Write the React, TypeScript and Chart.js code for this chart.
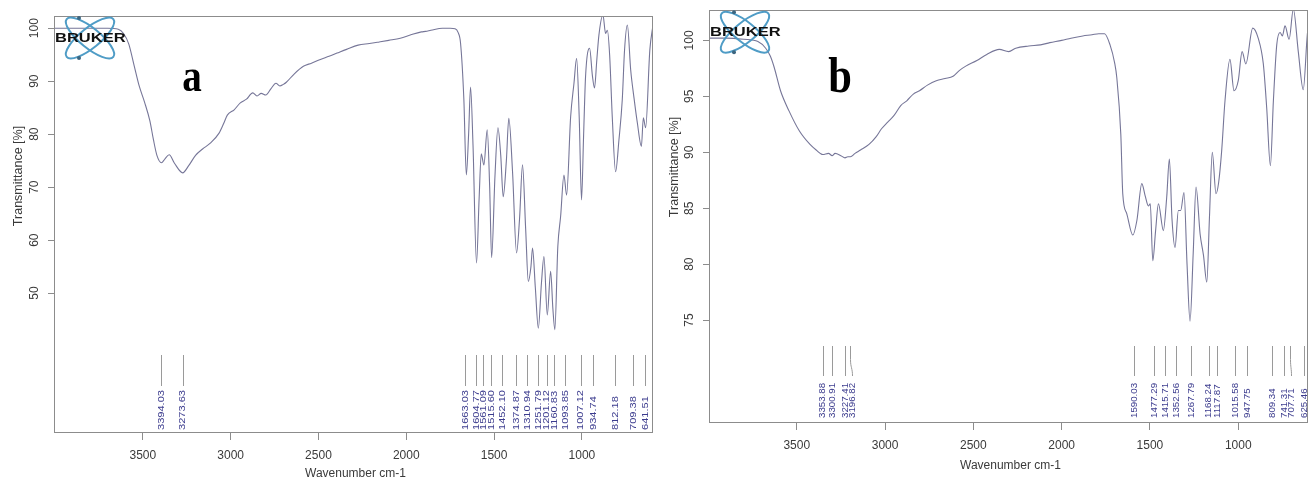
import React, { useEffect, useRef } from 'react';
import { Chart, registerables } from 'chart.js';

Chart.register(...registerables);

// ---------------- DATA ----------------
const waveA = [
  4006, 3900, 3800, 3700, 3640, 3610, 3580, 3550, 3520, 3490, 3460, 3440, 3420, 3394, 3375, 3350, 3320, 3273,
  3240, 3200, 3160, 3116, 3066, 3040, 3019, 2980, 2945, 2910, 2874, 2850, 2826, 2800, 2770, 2742, 2720, 2700,
  2683, 2640, 2586, 2540, 2489, 2440, 2394, 2340, 2274, 2210, 2154, 2100, 2034, 1970, 1914, 1890, 1860, 1794,
  1750, 1722, 1705, 1691, 1672, 1658, 1645, 1634, 1620, 1600, 1585, 1573, 1558, 1539, 1525, 1514, 1495, 1478,
  1462, 1448, 1430, 1416, 1395, 1372, 1355, 1338, 1320, 1305, 1290, 1281, 1265, 1248, 1230, 1216, 1197, 1178,
  1165, 1154, 1137, 1121, 1102, 1087, 1064, 1045, 1030, 1015, 1002, 990, 979, 956, 940, 928, 915, 903, 880,
  865, 855, 842, 827, 808, 789, 770, 757, 741, 722, 703, 684, 661, 650, 637, 613, 595,
];
const transA = [
  100.0, 100.0, 100.0, 100.0, 99.8, 99.0, 97.0, 93.0, 89.0, 86.0, 82.5, 79.0, 76.0, 74.6, 75.3, 76.1, 74.5, 72.7,
  74.0, 76.0, 77.2, 78.3, 80.2, 82.0, 83.6, 84.6, 85.9, 86.6, 87.8, 87.2, 87.7, 87.4, 88.6, 89.6, 89.1, 89.4,
  89.8, 91.3, 92.8, 93.4, 94.1, 94.7, 95.3, 96.0, 96.8, 97.1, 97.4, 97.7, 98.1, 98.8, 99.3, 99.4, 99.6, 100.0,
  100.0, 99.9, 99.2, 97.2, 86.5, 72.3, 80.0, 88.9, 78.0, 55.7, 68.0, 76.3, 74.2, 80.8, 70.0, 56.7, 72.0, 81.2,
  76.0, 68.2, 75.0, 83.0, 73.0, 57.6, 64.0, 74.2, 62.0, 52.2, 55.0, 58.5, 51.0, 43.4, 52.0, 56.9, 45.9, 54.1,
  47.0, 43.1, 58.8, 64.5, 72.3, 68.5, 83.3, 89.6, 94.3, 83.0, 67.6, 80.0, 90.9, 96.2, 91.0, 88.7, 94.0, 98.7, 102.5,
  99.0, 99.6, 95.0, 83.3, 72.9, 78.9, 86.5, 95.9, 100.6, 92.1, 86.8, 82.1, 77.7, 83.1, 81.2, 95.9, 100.6,
];
const peaksA = [
  3394.03, 3273.63, 1663.03, 1604.77, 1561.09, 1515.6, 1452.1, 1374.87, 1310.94, 1251.79, 1201.12, 1160.83,
  1093.85, 1007.12, 934.74, 812.18, 709.38, 641.51,
];

const waveB = [
  3997, 3900, 3800, 3720, 3676, 3650, 3628, 3592, 3544, 3485, 3425, 3390, 3353, 3320, 3300, 3283, 3250, 3227,
  3211, 3196, 3170, 3139, 3091, 3050, 3020, 2985, 2949, 2910, 2877, 2840, 2805, 2760, 2710, 2660, 2615, 2580,
  2543, 2480, 2424, 2353, 2300, 2260, 2186, 2120, 2067, 2000, 1947, 1880, 1828, 1790, 1757, 1726, 1700, 1688,
  1665, 1654, 1631, 1597, 1574, 1546, 1527, 1509, 1498, 1484, 1468, 1452, 1424, 1405, 1390, 1375, 1358, 1339,
  1326, 1307, 1290, 1273, 1255, 1239, 1216, 1197, 1178, 1163, 1147, 1126, 1111, 1094, 1075, 1047, 1024, 1000,
  978, 957, 918, 887, 858, 839, 818, 801, 782, 763, 750, 735, 712, 688, 660, 632, 609, 605,
];
const transB = [
  100.2, 100.2, 100.1, 99.9, 99.3, 98.6, 97.6, 95.5, 93.7, 91.9, 90.7, 90.2, 89.8, 89.9, 89.7, 89.9, 89.7, 89.5,
  89.6, 89.6, 89.9, 90.2, 90.7, 91.4, 92.1, 92.7, 93.3, 94.2, 94.6, 95.2, 95.5, 96.0, 96.4, 96.6, 96.8, 97.3,
  97.7, 98.2, 98.75, 99.2, 99.0, 99.3, 99.5, 99.6, 99.8, 100.0, 100.2, 100.4, 100.5, 100.6, 100.6, 99.6, 98.0, 96.7,
  91.6, 86.3, 84.5, 82.6, 83.9, 87.2, 86.1, 85.2, 85.4, 80.3, 83.0, 85.4, 83.0, 86.0, 89.4, 84.0, 81.5, 84.8,
  84.8, 86.4, 80.0, 74.9, 81.0, 86.9, 82.7, 80.8, 78.4, 84.2, 90.0, 86.3, 87.3, 90.1, 94.6, 98.3, 95.5, 96.4,
  99.0, 97.9, 101.1, 100.2, 97.9, 94.0, 88.8, 94.6, 99.6, 100.7, 100.4, 101.3, 100.1, 102.8, 99.0, 95.6, 100.5, 101.0,
];
const peaksB = [
  3353.88, 3300.91, 3227.41, 3196.82, 1590.03, 1477.29, 1415.71, 1352.56, 1267.79, 1168.24, 1117.87, 1015.58,
  947.75, 809.34, 741.31, 707.71, 625.46,
];

const xTicks = [3500, 3000, 2500, 2000, 1500, 1000];
const yTicksA = [50, 60, 70, 80, 90, 100];
const yTicksB = [75, 80, 85, 90, 95, 100];

// ---------------- STYLE ----------------
const FONT = '"Liberation Sans", Arial, sans-serif';
const CURVE = '#767698';
const AXIS = '#8c8c8c';
const TICK = '#3a3a3a';
const PEAK_LINE = '#9a9a9a';
const PEAK_TEXT = '#3c3c8e';

type Panel = {
  wave: number[];
  trans: number[];
  peaks: number[];
  yTicks: number[];
  xMin: number;
  xMax: number;
  yMin: number;
  yMax: number;
  top: number;
  xAxisH: number;
  lineTopOff: number;
  lineBotOff: number;
  labelStartOff: number;
  labelStretch: number;
  xTitleY: number;
  yTitleX: number;
  yTitleY: number;
  letter: string;
  letterX: number;
  letterY: number;
  letterSize: number;
  left: number;
};

const panelA: Panel = {
  wave: waveA, trans: transA, peaks: peaksA, yTicks: yTicksA,
  xMin: 595, xMax: 4006, yMin: 23.6, yMax: 102.3,
  top: 16, xAxisH: 51,
  lineTopOff: 78, lineBotOff: 47, labelStartOff: 3, labelStretch: 1.3,
  xTitleY: 474, yTitleX: 19, yTitleY: 176,
  letter: 'a', letterX: 192, letterY: 91, letterSize: 46, left: 0,
};
const panelB: Panel = {
  wave: waveB, trans: transB, peaks: peaksB, yTicks: yTicksB,
  xMin: 605, xMax: 3997, yMin: 65.8, yMax: 102.7,
  top: 9, xAxisH: 61,
  lineTopOff: 77, lineBotOff: 47, labelStartOff: 5, labelStretch: 1.14,
  xTitleY: 466, yTitleX: 20, yTitleY: 167,
  letter: 'b', letterX: 185, letterY: 92, letterSize: 50, left: 655,
};

function drawLogo(ctx: CanvasRenderingContext2D, left: number, top: number) {
  const cx = left + 36;
  const cy = top + 22;
  ctx.save();
  ctx.strokeStyle = '#4f9cc6';
  ctx.lineWidth = 2;
  ctx.beginPath();
  ctx.ellipse(cx, cy, 30, 10, (39 * Math.PI) / 180, 0, Math.PI * 2);
  ctx.stroke();
  ctx.beginPath();
  ctx.ellipse(cx, cy, 30, 10, (-39 * Math.PI) / 180, 0, Math.PI * 2);
  ctx.stroke();
  ctx.fillStyle = '#3d6680';
  ctx.beginPath();
  ctx.arc(cx - 11, cy - 20, 2, 0, Math.PI * 2);
  ctx.fill();
  ctx.beginPath();
  ctx.arc(cx - 11, cy + 20, 2, 0, Math.PI * 2);
  ctx.fill();
  ctx.translate(left + 1, cy);
  ctx.scale(1.27, 1);
  ctx.font = `bold 13px ${FONT}`;
  ctx.fillStyle = '#111';
  ctx.textBaseline = 'middle';
  ctx.textAlign = 'left';
  ctx.fillText('BRUKER', 0, 0);
  ctx.restore();
}

function makePlugin(p: Panel) {
  return {
    id: 'panelDecor' + p.letter,
    afterDraw(chart: any) {
      const { ctx, chartArea: ca, scales } = chart;
      const xs = scales.x;
      ctx.save();
      // box
      ctx.strokeStyle = AXIS;
      ctx.lineWidth = 1;
      const l = Math.round(ca.left) + 0.5;
      const t = Math.round(ca.top) + 0.5;
      const r = Math.round(ca.right) - 0.5;
      const b = Math.round(ca.bottom) - 0.5;
      ctx.strokeRect(l, t, r - l, b - t);

      // peak markers
      const pos0: number[] = p.peaks.map((w) => xs.getPixelForValue(w));
      const pos = pos0.slice();
      const gap = 7.5;
      for (let i = 1; i < pos.length; i++) {
        if (pos[i] < pos[i - 1] + gap) pos[i] = pos[i - 1] + gap;
      }
      const maxX = ca.right - 4;
      if (pos[pos.length - 1] > maxX) {
        pos[pos.length - 1] = maxX;
        for (let i = pos.length - 2; i >= 0; i--) {
          if (pos[i] > pos[i + 1] - gap) pos[i] = pos[i + 1] - gap;
        }
      }
      const lt = ca.bottom - p.lineTopOff;
      const lb = ca.bottom - p.lineBotOff;
      ctx.strokeStyle = PEAK_LINE;
      ctx.lineWidth = 1;
      for (let i = 0; i < pos.length; i++) {
        const x0 = Math.round(pos0[i]) + 0.5;
        const x1 = Math.round(pos[i]) + 0.5;
        ctx.beginPath();
        ctx.moveTo(x0, lt);
        if (Math.abs(x1 - x0) < 0.6) {
          ctx.lineTo(x0, lb);
        } else {
          const mid = lt + (lb - lt) * 0.45;
          ctx.lineTo(x0, mid);
          ctx.bezierCurveTo(x0, mid + 8, x1, lb - 8, x1, lb);
        }
        ctx.stroke();
      }
      ctx.fillStyle = PEAK_TEXT;
      ctx.font = `8.5px ${FONT}`;
      ctx.textAlign = 'left';
      ctx.textBaseline = 'middle';
      for (let i = 0; i < pos.length; i++) {
        ctx.save();
        ctx.translate(pos[i] + 0.5, ca.bottom - p.labelStartOff);
        ctx.rotate(-Math.PI / 2);
        ctx.scale(p.labelStretch, 1);
        ctx.fillText(p.peaks[i].toFixed(2), 0, 0);
        ctx.restore();
      }

      // axis titles
      ctx.fillStyle = TICK;
      ctx.font = `12px ${FONT}`;
      ctx.textAlign = 'center';
      ctx.textBaseline = 'middle';
      ctx.fillText('Wavenumber cm-1', (ca.left + ca.right) / 2 + 2, p.xTitleY);
      ctx.save();
      ctx.translate(p.yTitleX, p.yTitleY);
      ctx.rotate(-Math.PI / 2);
      ctx.font = `12.5px ${FONT}`;
      ctx.fillText('Transmittance [%]', 0, 0);
      ctx.restore();

      // panel letter
      ctx.save();
      ctx.translate(p.letterX, p.letterY);
      ctx.scale(0.85, 1);
      ctx.fillStyle = '#000';
      ctx.font = `bold ${p.letterSize}px "Liberation Serif", "Times New Roman", serif`;
      ctx.textAlign = 'center';
      ctx.textBaseline = 'alphabetic';
      ctx.fillText(p.letter, 0, 0);
      ctx.restore();

      // logo
      drawLogo(ctx, ca.left, ca.top);
      ctx.restore();
    },
  };
}

function makeConfig(p: Panel): any {
  return {
    type: 'line',
    data: {
      datasets: [
        {
          data: p.wave.map((w, i) => ({ x: w, y: p.trans[i] })),
          borderColor: CURVE,
          borderWidth: 1.1,
          pointRadius: 0,
          cubicInterpolationMode: 'monotone',
          fill: false,
          clip: 0,
        },
      ],
    },
    options: {
      animation: false,
      responsive: false,
      devicePixelRatio: 1,
      events: [],
      layout: { padding: { top: p.top, right: 2, left: 0, bottom: 0 } },
      plugins: { legend: { display: false }, tooltip: { enabled: false } },
      scales: {
        x: {
          type: 'linear',
          reverse: true,
          min: p.xMin,
          max: p.xMax,
          afterBuildTicks: (s: any) => {
            s.ticks = xTicks.map((v) => ({ value: v }));
          },
          afterFit: (s: any) => {
            s.height = p.xAxisH;
          },
          grid: { display: true, drawOnChartArea: false, drawTicks: true, tickLength: 7, color: AXIS },
          border: { display: false },
          ticks: {
            padding: 8,
            color: TICK,
            font: { size: 12, family: FONT },
            maxRotation: 0,
            minRotation: 0,
            autoSkip: false,
            callback: (v: any) => String(v),
          },
        },
        y: {
          type: 'linear',
          min: p.yMin,
          max: p.yMax,
          afterBuildTicks: (s: any) => {
            s.ticks = p.yTicks.map((v) => ({ value: v }));
          },
          afterFit: (s: any) => {
            s.width = 54;
          },
          grid: { display: true, drawOnChartArea: false, drawTicks: true, tickLength: 6, color: AXIS },
          border: { display: false },
          ticks: {
            minRotation: 90,
            maxRotation: 90,
            crossAlign: 'center',
            padding: 3,
            color: TICK,
            font: { size: 12, family: FONT },
            autoSkip: false,
            callback: (v: any) => String(v),
          },
        },
      },
    },
    plugins: [makePlugin(p)],
  };
}

function SpectrumPanel({ panel }: { panel: Panel }) {
  const ref = useRef<HTMLCanvasElement | null>(null);
  useEffect(() => {
    if (!ref.current) return;
    const chart = new Chart(ref.current, makeConfig(panel));
    return () => chart.destroy();
  }, [panel]);
  return (
    <div style={{ position: 'absolute', left: panel.left, top: 0, width: 655, height: 484 }}>
      <canvas ref={ref} width={655} height={484} style={{ display: 'block', width: 655, height: 484 }} />
    </div>
  );
}

export default function App() {
  return (
    <div style={{ position: 'absolute', left: 0, top: 0, width: 1310, height: 484, background: '#fff', overflow: 'hidden' }}>
      <SpectrumPanel panel={panelA} />
      <SpectrumPanel panel={panelB} />
    </div>
  );
}
